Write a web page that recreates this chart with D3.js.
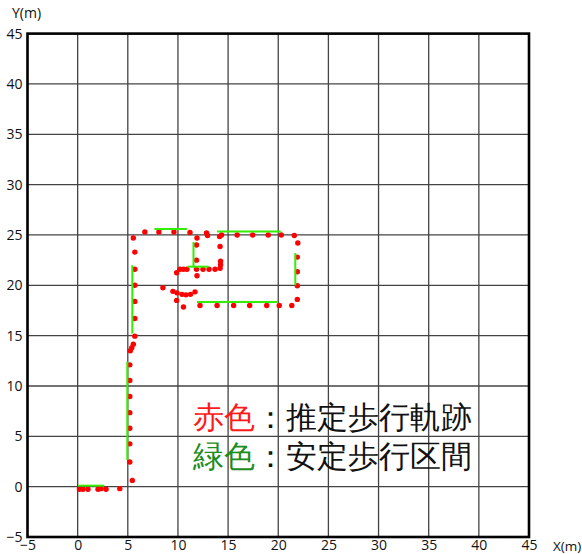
<!DOCTYPE html>
<html><head><meta charset="utf-8">
<script src="https://cdn.jsdelivr.net/npm/d3@7"></script>
<style>
html,body{margin:0;padding:0;background:#fff;}
svg{display:block;}
text{font-family:"Open Sans","DejaVu Sans",sans-serif;}
</style></head>
<body><svg id="c" width="582" height="554"></svg>
<script>
// Tick values
const xTicks = [-5,0,5,10,15,20,25,30,35,40,45];
const yTicks = [-5,0,5,10,15,20,25,30,35,40,45];
// Red: estimated walking trajectory (x, y in metres)
const trajX = [0.18,0.53,1.03,2.03,2.33,2.83,4.2,
  5.45,5.2,5.2,5.2,5.2,5.2,5.2,5.2,5.25,5.4,5.55,
  5.7,5.7,5.7,5.7,5.7,5.7,5.55,
  6.7,8.1,9.6,11.2,12.85,12.95,14.15,14.35,15.9,17.45,19.0,20.3,21.6,
  21.95,21.9,21.9,21.9,21.9,
  21.35,20.1,18.85,17.15,15.55,13.9,12.2,10.55,
  9.87,9.5,8.5,9.9,10.4,10.8,11.25,11.7,
  11.9,11.85,11.85,11.85,11.9,
  9.87,10.2,10.55,10.9,12.5,13.1,13.7,14.2,14.25,14.25,14.2];
const trajY = [-0.25,-0.25,-0.25,-0.25,-0.2,-0.25,-0.2,
  0.62,2.45,4.25,5.8,7.35,8.95,10.55,12.1,13.5,13.8,14.15,
  14.95,16.7,18.4,20.0,21.6,23.3,24.7,
  25.3,25.3,25.3,25.25,25.2,24.95,24.85,25.0,25.0,25.0,25.0,25.0,24.95,
  24.2,22.8,21.35,19.95,18.6,
  18.0,18.0,18.0,18.0,18.0,18.0,18.0,17.85,
  18.5,19.4,19.75,19.25,19.1,19.05,19.1,19.35,
  24.7,24.0,22.5,21.6,20.95,
  21.25,21.6,21.6,21.6,21.6,21.6,21.6,21.7,22.05,22.4,23.85];
// Green: stable walking intervals (segments)
const stableX1 = [0.05,4.95,5.45,7.65,11.55,10.95,13.9,21.7,11.9];
const stableY1 = [0.1,2.65,15.2,25.6,21.8,21.85,25.35,20.0,18.35];
const stableX2 = [2.65,4.95,5.45,10.9,11.55,13.05,20.25,21.7,19.95];
const stableY2 = [0.1,12.4,22.0,25.6,24.3,21.85,25.35,23.2,18.35];

const svg = d3.select("#c");
const x = d3.scaleLinear().domain([-5,45]).range([27.5,529]);
const y = d3.scaleLinear().domain([-5,45]).range([537,33.6]);

// grid
const g = svg.append("g");
g.selectAll("line.gx").data(xTicks).join("line")
  .attr("x1",d=>x(d)).attr("x2",d=>x(d)).attr("y1",y(-5)).attr("y2",y(45))
  .attr("stroke","#444").attr("stroke-width",1.3);
g.selectAll("line.gy").data(yTicks).join("line")
  .attr("y1",d=>y(d)).attr("y2",d=>y(d)).attr("x1",x(-5)).attr("x2",x(45))
  .attr("stroke","#444").attr("stroke-width",1.3);

// axes labels via d3 axes
const ax = svg.append("g").attr("transform",`translate(0,${y(-5)})`)
  .call(d3.axisBottom(x).tickValues(xTicks).tickSize(0).tickPadding(3));
ax.select(".domain").remove();
ax.selectAll("text").attr("font-size",14).attr("fill","#111").attr("font-family","Open Sans, sans-serif");
const ay = svg.append("g").attr("transform",`translate(${x(-5)-4},0)`)
  .call(d3.axisLeft(y).tickValues(yTicks).tickSize(0).tickPadding(1));
ay.select(".domain").remove();
ay.selectAll("text").attr("font-size",14).attr("fill","#111").attr("font-family","Open Sans, sans-serif");

svg.append("text").attr("x",12).attr("y",18).attr("font-size",14).attr("fill","#111").text("Y(m)");
svg.append("text").attr("x",553).attr("y",551).attr("font-size",13.5).attr("fill","#111").text("X(m)");

// border
svg.append("rect").attr("x",x(-5)).attr("y",y(45)).attr("width",x(45)-x(-5)).attr("height",y(-5)-y(45))
  .attr("fill","none").attr("stroke","#000").attr("stroke-width",2.6);

// red dots
svg.append("g").selectAll("circle").data(d3.range(trajX.length)).join("circle")
  .attr("cx",i=>x(trajX[i])).attr("cy",i=>y(trajY[i])).attr("r",2.7).attr("fill","#ff0000");

// green segments
svg.append("g").selectAll("line").data(d3.range(stableX1.length)).join("line")
  .attr("x1",i=>x(stableX1[i])).attr("y1",i=>y(stableY1[i]))
  .attr("x2",i=>x(stableX2[i])).attr("y2",i=>y(stableY2[i]))
  .attr("stroke","#33ee00").attr("stroke-width",2);

// legend
const cjk = '"Noto Sans CJK JP", sans-serif';
const l1 = svg.append("text").attr("x",193).attr("y",428).attr("font-size",31.4).attr("font-family",cjk);
l1.append("tspan").attr("fill","#ff1a1a").text("赤色");
l1.append("tspan").attr("fill","#111").text("：推定歩行軌跡");
const l2 = svg.append("text").attr("x",193).attr("y",467).attr("font-size",31.4).attr("font-family",cjk);
l2.append("tspan").attr("fill","#1e8c1e").text("緑色");
l2.append("tspan").attr("fill","#111").text("：安定歩行区間");
</script></body></html>
